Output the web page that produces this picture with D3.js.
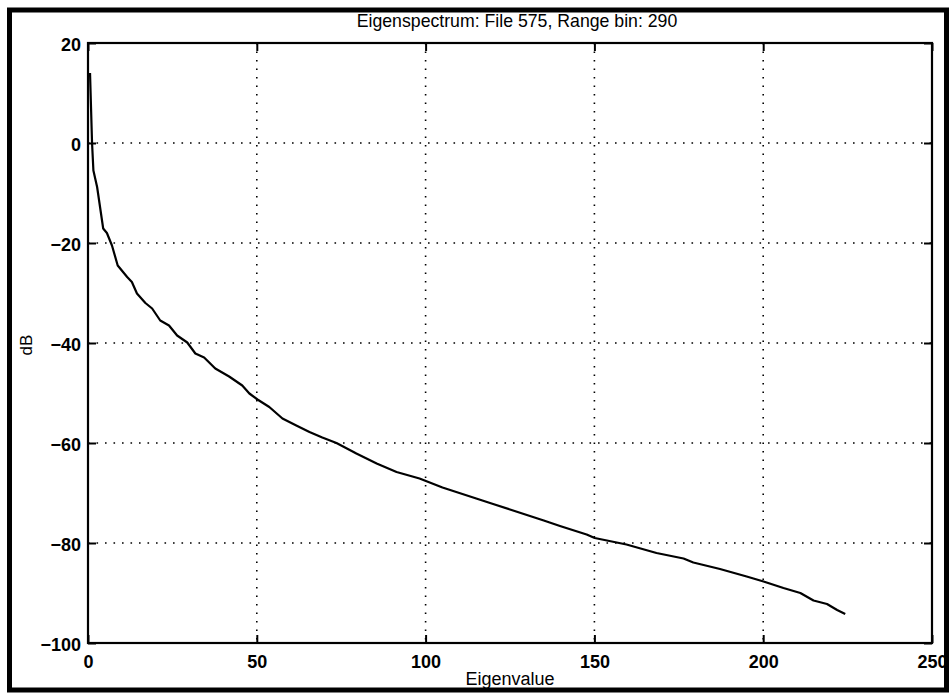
<!DOCTYPE html>
<html><head><meta charset="utf-8">
<script src="https://cdn.jsdelivr.net/npm/d3@7"></script>
<style>html,body{margin:0;padding:0;background:#fff;}svg{display:block;}</style>
</head><body>
<svg id="chart" width="951" height="694"></svg>
<script>
const titleText = "Eigenspectrum: File 575, Range bin: 290";
const xLabel = "Eigenvalue";
const yLabel = "dB";
const xTicks = [0, 50, 100, 150, 200, 250];
const yTicks = [20, 0, -20, -40, -60, -80, -100];
const eigIndex = [0.6, 1.2, 1.6, 2.7, 4.5, 5.6, 7.1, 8.8, 11.6, 13, 14.5, 17, 19, 21.4, 24, 26.4, 29.4, 31.8, 34.4, 37.7, 41.8, 45.7, 47.8, 50.2, 53.7, 57.6, 61.7, 65.6, 69.4, 73.6, 79.5, 85.5, 91.4, 98.2, 105, 110, 115, 120, 125, 130, 135, 139.8, 147.7, 150.1, 159.5, 168.4, 176.4, 179.3, 187.2, 195.1, 200.1, 206, 211, 214.9, 218.9, 221.9, 224.3];
const dbValues = [14, 0, -5.5, -8.8, -17.1, -18, -20.5, -24.5, -26.8, -27.8, -30.1, -32, -33.1, -35.5, -36.5, -38.5, -39.9, -42.1, -42.9, -45.1, -46.7, -48.5, -50.1, -51.3, -52.8, -55.1, -56.5, -57.8, -58.9, -60, -62.1, -64.1, -65.8, -67.1, -68.9, -70.0, -71.1, -72.2, -73.3, -74.4, -75.5, -76.6, -78.3, -79.0, -80.3, -82.0, -83.1, -83.9, -85.2, -86.7, -87.7, -89.0, -90.0, -91.5, -92.2, -93.4, -94.2];

const svg = d3.select("#chart");
const L = 88, R = 932, T = 43, B = 643;
const x = d3.scaleLinear().domain([0, 250]).range([L, R]);
const y = d3.scaleLinear().domain([-100, 20]).range([B, T]);
const font = "'Liberation Sans', Arial, Helvetica, sans-serif";
const minus = s => String(s).replace("-", "\u2212");

// outer frame
svg.append("rect").attr("x", 9.5).attr("y", 10).attr("width", 937).attr("height", 680)
  .attr("fill", "none").attr("stroke", "#000").attr("stroke-width", 5);

// grid
const grid = svg.append("g").attr("stroke", "#000").attr("stroke-width", 1.6)
  .attr("stroke-dasharray", "1.6,6.9").attr("fill", "none");
grid.selectAll("line.gx").data(xTicks.filter(v => v > 0 && v < 250)).join("line")
  .attr("x1", d => x(d)).attr("x2", d => x(d)).attr("y1", T).attr("y2", B);
grid.selectAll("line.gy").data(yTicks.filter(v => v > -100 && v < 20)).join("line")
  .attr("class", "gy")
  .attr("x1", L).attr("x2", R).attr("y1", d => y(d)).attr("y2", d => y(d));

// axes via d3 (inward ticks)
const tl = 8;
const axB = svg.append("g").attr("transform", `translate(0,${B})`)
  .call(d3.axisBottom(x).tickValues(xTicks).tickSize(-tl).tickPadding(8).tickFormat(d => minus(d)));
const axT = svg.append("g").attr("transform", `translate(0,${T})`)
  .call(d3.axisTop(x).tickValues(xTicks).tickSize(-tl).tickFormat(""));
const axL = svg.append("g").attr("transform", `translate(${L},0)`)
  .call(d3.axisLeft(y).tickValues(yTicks).tickSize(-tl).tickPadding(8).tickFormat(d => minus(d)));
const axR = svg.append("g").attr("transform", `translate(${R},0)`)
  .call(d3.axisRight(y).tickValues(yTicks).tickSize(-tl).tickFormat(""));
[axB, axT, axL, axR].forEach(a => {
  a.select(".domain").remove();
  a.selectAll(".tick line").attr("stroke", "#000").attr("stroke-width", 2);
  a.selectAll(".tick text").attr("fill", "#000").attr("font-family", font)
    .attr("font-size", 18).attr("font-weight", "bold");
});
axB.selectAll(".tick text").attr("dy", "0.71em").attr("y", 12);
axL.selectAll(".tick text").attr("x", -7).attr("dy", "0.4em");

// box
svg.append("rect").attr("x", L).attr("y", T).attr("width", R - L).attr("height", B - T)
  .attr("fill", "none").attr("stroke", "#000").attr("stroke-width", 2.2);

// curve
const pts = eigIndex.map((v, i) => [v, dbValues[i]]);
svg.append("path").datum(pts)
  .attr("d", d3.line().x(d => x(d[0])).y(d => y(d[1])))
  .attr("fill", "none").attr("stroke", "#000").attr("stroke-width", 2.2)
  .attr("stroke-linejoin", "round");

// title & labels
svg.append("text").attr("x", 517).attr("y", 27).attr("text-anchor", "middle")
  .attr("font-family", font).attr("font-size", 17.7).attr("fill", "#000").text(titleText);
svg.append("text").attr("x", 510).attr("y", 685).attr("text-anchor", "middle")
  .attr("font-family", font).attr("font-size", 18).attr("fill", "#000").text(xLabel);
svg.append("text").attr("transform", "translate(32,345) rotate(-90)").attr("text-anchor", "middle")
  .attr("font-family", font).attr("font-size", 17).attr("fill", "#000").text(yLabel);
</script>
</body></html>
